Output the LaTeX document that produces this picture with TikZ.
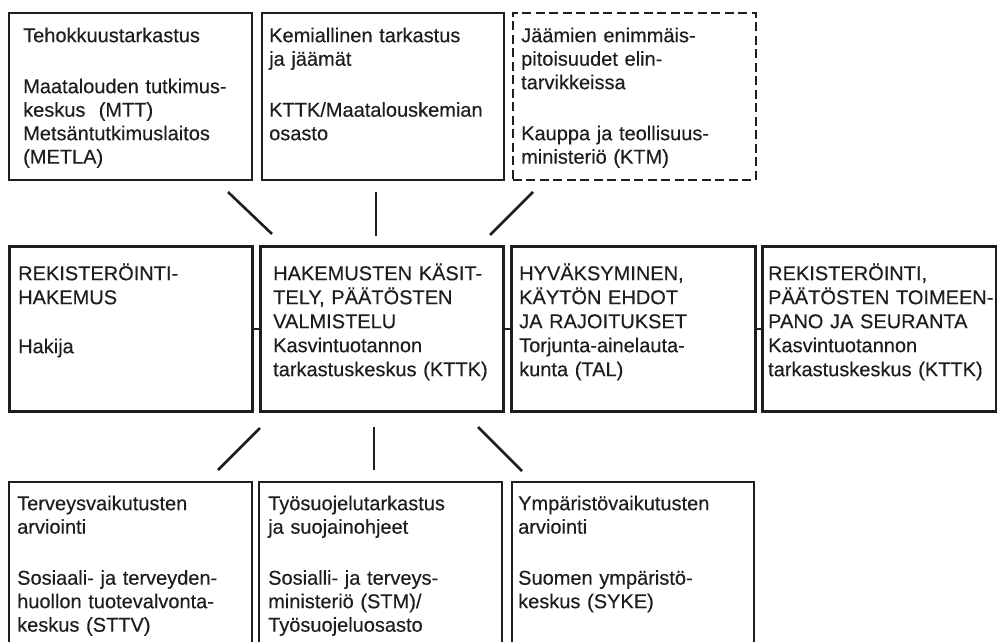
\documentclass[tikz,border=0pt]{standalone}
\usepackage{fontspec}
\setmainfont{Liberation Sans}
\newfontfamily\heavyfont[FakeBold=0.35]{Liberation Sans}
\usetikzlibrary{calc}
\definecolor{ink}{HTML}{1E1E1E}
\tikzset{
  thinbox/.style={draw=ink, line width=1.6pt, rectangle, inner sep=0pt, anchor=north west},
  thickbox/.style={draw=ink, line width=2.6pt, rectangle, inner sep=0pt, anchor=north west},
  dashbox/.style={thinbox, dash pattern=on 9pt off 4.5pt},
  txt/.style={anchor=north west, inner sep=0pt, align=left, text=ink, text width=232pt,
    font=\heavyfont\fontsize{20}{23.5}\selectfont},
  txtm/.style={txt, font=\heavyfont\fontsize{20}{24}\selectfont},
  link/.style={draw=ink, line width=2.6pt},
}
\newcommand{\fs}{\rule{0pt}{20pt}}
\begin{document}
\begin{tikzpicture}[x=1pt, y=-1pt]
\useasboundingbox (0,0) rectangle (997,642);
\clip (0,0) rectangle (997,642);
% top row
\node[thinbox, minimum width=243pt, minimum height=167pt] (T1) at (8,12) {};
\node[thinbox, minimum width=242pt, minimum height=167pt] (T2) at (261,12) {};
\node[dashbox, minimum width=243pt, minimum height=167pt] (T3) at (512,12) {};
\node[txt] (T1t) at (23,22) {\fs Tehokkuustarkastus\\[27.5pt]Maatalouden tutkimus-\\keskus~~(MTT)\\Metsäntutkimuslaitos\\(METLA)};
\node[txt] (T2t) at (269,22) {\fs Kemiallinen tarkastus\\ja jäämät\\[27.5pt]KTTK/Maatalouskemian\\osasto};
\node[txt] (T3t) at (521,22) {\fs Jäämien enimmäis-\\pitoisuudet elin-\\tarvikkeissa\\[27.5pt]Kauppa ja teollisuus-\\ministeriö (KTM)};
% middle row
\node[thickbox, minimum width=243pt, minimum height=165pt] (M1) at (8,245) {};
\node[thickbox, minimum width=243pt, minimum height=165pt] (M2) at (259,245) {};
\node[thickbox, minimum width=244pt, minimum height=165pt] (M3) at (510,245) {};
\node[thickbox, minimum width=234pt, minimum height=165pt] (M4) at (761,245) {};
\node[txtm] (M1t) at (18,260) {\fs REKISTERÖINTI-\\HAKEMUS\\[25pt]Hakija};
\node[txtm] (M2t) at (273,260) {\fs HAKEMUSTEN KÄSIT-\\TELY, PÄÄTÖSTEN\\VALMISTELU\\Kasvintuotannon\\tarkastuskeskus (KTTK)};
\node[txtm] (M3t) at (519,260) {\fs HYVÄKSYMINEN,\\KÄYTÖN EHDOT\\JA RAJOITUKSET\\Torjunta-ainelauta-\\kunta (TAL)};
\node[txtm] (M4t) at (768,260) {\fs REKISTERÖINTI,\\PÄÄTÖSTEN TOIMEEN-\\PANO JA SEURANTA\\Kasvintuotannon\\tarkastuskeskus (KTTK)};
\draw[link] (M1.east) -- (M2.west);
\draw[link] (M2.east) -- (M3.west);
\draw[link] (M3.east) -- (M4.west);
% bottom row
\node[thinbox, minimum width=243pt, minimum height=190pt] (B1) at (8,481) {};
\node[thinbox, minimum width=243pt, minimum height=190pt] (B2) at (258,481) {};
\node[thinbox, minimum width=242pt, minimum height=190pt] (B3) at (511,481) {};
\node[txt] (B1t) at (17,490) {\fs Terveysvaikutusten\\arviointi\\[27.5pt]Sosiaali- ja terveyden-\\huollon tuotevalvonta-\\keskus (STTV)};
\node[txt] (B2t) at (268,490) {\fs Työsuojelutarkastus\\ja suojainohjeet\\[27.5pt]Sosialli- ja terveys-\\ministeriö (STM)/\\Työsuojeluosasto};
\node[txt] (B3t) at (518,490) {\fs Ympäristövaikutusten\\arviointi\\[27.5pt]Suomen ympäristö-\\keskus (SYKE)};
% diagonal connectors (free-standing strokes)
\coordinate (u1a) at (228,192); \coordinate (u1b) at (272,234);
\coordinate (u2a) at (376,192); \coordinate (u2b) at (376,236);
\coordinate (u3a) at (533,192); \coordinate (u3b) at (490,235);
\coordinate (d1a) at (260,428); \coordinate (d1b) at (218,470);
\coordinate (d2a) at (374,427); \coordinate (d2b) at (374,470);
\coordinate (d3a) at (478,427); \coordinate (d3b) at (522,471);
\draw[link] (u1a) -- (u1b);
\draw[link] (u2a) -- (u2b);
\draw[link] (u3a) -- (u3b);
\draw[link] (d1a) -- (d1b);
\draw[link] (d2a) -- (d2b);
\draw[link] (d3a) -- (d3b);
\end{tikzpicture}
\end{document}
